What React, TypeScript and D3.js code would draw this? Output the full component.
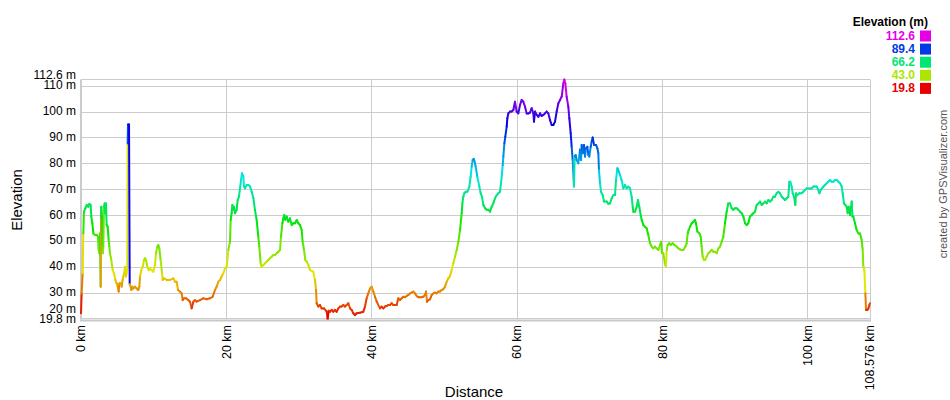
import React from "react";
import * as d3 from "d3";

// ---------- data ----------
const totalKm = 108.576;
const elevMin = 19.8;
const elevMax = 112.6;
const xTickKm = [0, 20, 40, 60, 80, 100, 108.576];
const yTickM = [20, 30, 40, 50, 60, 70, 80, 90, 100, 110];
const legendCount = 5;

// [distance km, elevation m]
const profile: [number, number][] = [
  [0.0, 22.2], [0.09, 29.9], [0.23, 37.7], [0.32, 53.1], [0.41, 61.5], [0.6, 62.8], [0.78, 64.1], [1.01, 63.4], [1.15, 64.5], [1.33, 64.1],
  [1.42, 59.6], [1.56, 57.0], [1.7, 53.1], [1.93, 52.5], [2.16, 52.5], [2.34, 51.8], [2.43, 46.7], [2.52, 45.4], [2.61, 53.1], [2.71, 32.5],
  [2.75, 59.6], [2.8, 63.4], [2.89, 59.6], [2.98, 45.4], [3.07, 48.0], [3.17, 63.4], [3.26, 64.7], [3.35, 60.9], [3.44, 64.7], [3.53, 56.3],
  [3.67, 55.7], [3.81, 50.5], [3.9, 48.0], [3.99, 45.4], [4.17, 42.8], [4.36, 38.9], [4.54, 37.7], [4.72, 35.1], [4.91, 33.8], [5.05, 32.5],
  [5.18, 30.6], [5.28, 33.8], [5.46, 33.8], [5.6, 32.5], [5.73, 35.1], [5.92, 37.7], [6.06, 40.2], [6.19, 36.4], [6.28, 37.7], [6.38, 40.2],
  [6.42, 87.9], [6.47, 95.2], [6.61, 95.2], [6.7, 33.5], [6.83, 32.5], [6.93, 31.2], [7.06, 32.5], [7.2, 31.8], [7.43, 32.5], [7.66, 31.8],
  [7.89, 31.2], [8.03, 32.5], [8.12, 36.4], [8.3, 38.9], [8.49, 40.2], [8.67, 42.8], [8.81, 43.5], [8.94, 42.8], [9.13, 40.2], [9.31, 38.9],
  [9.5, 39.6], [9.72, 38.9], [9.95, 38.3], [10.18, 40.9], [10.32, 45.4], [10.5, 48.0], [10.64, 48.6], [10.78, 47.3], [10.96, 42.8], [11.15, 37.7],
  [11.24, 35.1], [11.42, 35.7], [11.79, 35.1], [12.25, 35.1], [12.71, 35.7], [12.94, 34.4], [13.17, 34.4], [13.35, 31.2], [13.62, 30.6], [13.85, 29.9],
  [13.99, 27.3], [14.17, 28.0], [14.45, 28.0], [14.77, 27.3], [15.0, 26.7], [15.23, 24.1], [15.46, 26.7], [15.69, 27.3], [15.92, 26.7], [16.38, 27.3],
  [16.83, 28.0], [17.29, 27.6], [17.75, 28.0], [18.12, 28.6], [18.44, 31.2], [18.67, 32.5], [18.9, 34.4], [19.13, 35.1], [19.36, 36.4], [19.59, 37.7],
  [19.82, 39.6], [20.05, 40.2], [20.28, 46.7], [20.5, 49.9], [20.6, 58.3], [20.73, 60.9], [20.83, 64.1], [20.96, 62.2], [21.06, 63.4], [21.19, 60.9],
  [21.42, 62.2], [21.56, 66.0], [21.74, 67.3], [21.88, 70.5], [22.02, 73.7], [22.16, 76.3], [22.34, 75.0], [22.43, 71.2], [22.57, 70.5], [22.8, 71.8],
  [23.03, 71.8], [23.26, 71.2], [23.49, 69.2], [23.72, 66.7], [23.94, 62.2], [24.17, 58.3], [24.4, 51.8], [24.54, 48.0], [24.72, 41.5], [24.86, 40.2],
  [25.09, 40.9], [25.32, 41.5], [25.55, 42.2], [25.78, 42.8], [26.01, 43.5], [26.24, 44.1], [26.47, 44.7], [26.7, 44.7], [26.93, 45.4], [27.16, 46.0],
  [27.39, 46.7], [27.52, 51.8], [27.71, 57.0], [27.84, 58.9], [27.98, 60.2], [28.12, 58.3], [28.3, 59.6], [28.53, 57.6], [28.76, 58.9], [28.99, 56.3],
  [29.22, 57.0], [29.45, 57.0], [29.68, 58.3], [29.91, 57.0], [30.14, 56.3], [30.37, 54.4], [30.5, 49.9], [30.69, 46.7], [30.87, 42.8], [31.06, 42.2],
  [31.28, 40.9], [31.51, 38.9], [31.97, 38.3], [32.2, 35.1], [32.34, 31.2], [32.43, 26.1], [32.66, 24.8], [32.89, 25.4], [33.12, 24.1], [33.44, 24.1],
  [33.81, 22.8], [33.94, 19.8], [34.08, 23.2], [34.27, 22.8], [34.5, 23.5], [34.72, 22.8], [34.95, 23.5], [35.18, 22.8], [35.41, 24.1], [35.64, 24.8],
  [35.87, 24.8], [36.1, 25.4], [36.33, 24.8], [36.56, 25.4], [36.79, 26.1], [37.02, 24.1], [37.25, 23.5], [37.48, 22.2], [37.71, 21.5], [37.94, 22.2],
  [38.39, 22.4], [38.85, 22.8], [39.08, 24.8], [39.31, 28.0], [39.54, 29.9], [39.77, 31.8], [40.0, 32.5], [40.23, 30.6], [40.46, 28.6], [40.69, 26.7],
  [41.15, 24.1], [41.38, 24.8], [41.61, 24.1], [41.83, 24.8], [42.06, 25.0], [42.29, 25.4], [42.52, 25.4], [42.75, 26.1], [42.98, 25.4], [43.44, 25.4],
  [43.67, 28.0], [43.9, 27.3], [44.13, 28.0], [44.36, 28.6], [44.59, 28.4], [44.82, 28.9], [45.05, 29.3], [45.28, 29.9], [45.5, 30.2], [45.73, 30.6],
  [45.96, 29.9], [46.19, 28.9], [46.42, 28.4], [46.65, 28.4], [46.88, 28.4], [47.11, 28.6], [47.34, 29.3], [47.48, 30.6], [47.61, 26.7], [47.8, 27.3],
  [48.03, 27.6], [48.26, 29.3], [48.49, 29.9], [48.72, 30.2], [48.94, 29.9], [49.17, 30.6], [49.4, 30.6], [49.63, 31.2], [49.86, 31.5], [50.09, 32.5],
  [50.32, 34.4], [50.55, 35.7], [50.78, 36.6], [51.01, 38.9], [51.24, 41.5], [51.47, 44.1], [51.7, 46.7], [51.93, 49.9], [52.16, 54.4], [52.39, 60.9],
  [52.48, 64.7], [52.61, 67.3], [52.75, 68.6], [52.94, 69.2], [53.17, 69.2], [53.44, 71.2], [53.62, 75.0], [53.76, 78.9], [53.9, 81.5], [54.04, 81.9],
  [54.17, 80.8], [54.31, 78.9], [54.54, 75.0], [54.82, 71.2], [55.0, 68.6], [55.18, 67.3], [55.37, 64.1], [55.6, 62.8], [55.83, 62.2], [56.06, 62.2],
  [56.28, 61.5], [56.51, 63.4], [56.74, 64.7], [56.97, 66.7], [57.2, 67.9], [57.43, 68.6], [57.66, 69.2], [57.8, 72.5], [57.94, 76.3], [58.03, 79.5],
  [58.12, 82.8], [58.26, 87.9], [58.39, 90.5], [58.58, 94.4], [58.67, 97.6], [58.81, 99.5], [59.04, 100.2], [59.27, 100.2], [59.5, 100.8], [59.72, 104.0],
  [59.95, 100.2], [60.18, 99.5], [60.41, 102.7], [60.64, 104.7], [60.87, 104.0], [61.1, 102.1], [61.33, 99.5], [61.56, 99.5], [61.79, 99.8], [62.02, 101.5],
  [62.25, 99.5], [62.34, 96.3], [62.48, 100.2], [62.71, 98.9], [62.94, 98.2], [63.17, 99.5], [63.39, 98.5], [63.62, 98.9], [63.85, 99.5], [64.08, 100.2],
  [64.31, 99.5], [64.54, 96.9], [64.77, 95.0], [65.0, 95.0], [65.23, 96.3], [65.46, 100.2], [65.69, 103.4], [65.92, 104.7], [66.15, 106.0], [66.38, 111.1],
  [66.51, 112.6], [66.65, 111.1], [66.83, 106.0], [67.06, 102.1], [67.2, 97.6], [67.39, 91.8], [67.52, 86.6], [67.66, 81.5], [67.84, 71.2], [67.94, 82.8],
  [68.07, 83.4], [68.21, 81.5], [68.44, 80.2], [68.67, 85.5], [68.81, 81.5], [68.9, 87.3], [69.04, 84.1], [69.22, 87.3], [69.36, 82.8], [69.5, 86.0],
  [69.68, 86.6], [69.82, 83.4], [69.95, 82.8], [70.14, 86.6], [70.28, 88.6], [70.41, 90.2], [70.6, 87.3], [70.87, 87.3], [71.06, 86.0], [71.19, 84.1],
  [71.28, 77.6], [71.42, 72.5], [71.56, 69.2], [71.79, 67.9], [71.97, 65.4], [72.34, 65.4], [72.57, 64.5], [72.8, 64.7], [73.03, 66.7], [73.26, 67.9],
  [73.49, 67.9], [73.62, 73.7], [73.81, 78.3], [73.94, 77.6], [74.17, 75.7], [74.4, 73.7], [74.63, 70.5], [74.86, 71.8], [75.09, 70.5], [75.32, 71.2],
  [75.55, 70.5], [75.78, 67.3], [75.92, 63.4], [76.01, 61.5], [76.24, 61.5], [76.47, 63.4], [76.65, 66.0], [76.83, 63.4], [77.02, 60.2], [77.16, 58.3],
  [77.39, 56.3], [77.61, 55.7], [77.84, 55.1], [78.07, 52.5], [78.3, 49.3], [78.53, 48.0], [78.76, 47.3], [78.99, 48.0], [79.22, 47.3], [79.45, 46.7],
  [79.68, 48.6], [79.82, 49.9], [79.95, 45.4], [80.14, 45.4], [80.37, 40.9], [80.5, 40.5], [80.6, 46.7], [80.73, 48.6], [80.96, 49.3], [81.15, 48.6],
  [81.42, 49.3], [81.65, 48.6], [81.97, 48.0], [82.2, 47.3], [82.43, 46.9], [82.66, 46.7], [82.89, 46.7], [83.17, 48.0], [83.35, 49.3], [83.49, 53.1],
  [83.62, 54.4], [83.81, 55.7], [84.04, 57.0], [84.27, 57.6], [84.5, 58.3], [84.63, 57.0], [84.82, 53.8], [85.09, 53.1], [85.28, 51.8], [85.41, 48.0],
  [85.55, 44.1], [85.73, 42.8], [85.87, 42.8], [86.1, 44.1], [86.33, 45.4], [86.56, 46.0], [86.79, 46.7], [87.02, 46.0], [87.25, 46.0], [87.48, 45.4],
  [87.71, 47.3], [87.94, 48.0], [88.17, 49.9], [88.39, 51.8], [88.62, 57.0], [88.85, 61.5], [89.08, 64.7], [89.31, 64.7], [89.54, 62.8], [89.77, 62.2],
  [90.0, 62.8], [90.23, 62.8], [90.46, 62.2], [90.69, 61.5], [90.92, 60.9], [91.15, 59.6], [91.38, 57.0], [91.61, 56.3], [91.83, 57.0], [92.06, 59.6],
  [92.29, 60.2], [92.52, 60.9], [92.75, 61.5], [92.98, 64.1], [93.21, 64.7], [93.44, 65.4], [93.67, 64.1], [93.9, 64.7], [94.13, 65.4], [94.36, 64.7],
  [94.59, 66.0], [94.82, 65.4], [95.05, 66.0], [95.28, 67.3], [95.5, 67.3], [95.73, 68.6], [95.96, 69.2], [96.19, 68.6], [96.42, 67.3], [96.65, 66.7],
  [96.88, 66.0], [97.11, 66.7], [97.34, 67.3], [97.48, 73.1], [97.61, 73.1], [97.8, 71.2], [97.94, 68.6], [98.12, 67.3], [98.3, 64.1], [98.39, 68.6],
  [98.58, 67.9], [98.85, 68.6], [99.17, 68.6], [99.4, 69.2], [99.63, 69.9], [99.86, 70.5], [100.09, 70.5], [100.32, 70.5], [100.55, 70.5], [100.78, 71.2],
  [101.01, 71.2], [101.24, 71.2], [101.47, 69.9], [101.61, 68.6], [101.79, 69.9], [101.97, 70.5], [102.16, 71.2], [102.39, 71.8], [102.61, 72.5], [102.84, 73.1],
  [103.07, 73.7], [103.3, 73.1], [103.53, 73.1], [103.76, 73.7], [103.99, 73.7], [104.22, 73.1], [104.45, 72.5], [104.68, 71.2], [104.82, 68.6], [105.0, 64.7],
  [105.18, 64.1], [105.37, 63.4], [105.5, 60.9], [105.64, 63.4], [105.83, 60.2], [106.06, 65.4], [106.15, 59.6], [106.28, 59.6], [106.51, 57.0], [106.74, 54.4],
  [106.97, 53.1], [107.2, 53.1], [107.43, 50.5], [107.57, 46.7], [107.66, 40.2], [107.8, 38.9], [107.94, 29.9], [108.03, 23.5], [108.21, 23.5], [108.35, 24.1],
  [108.49, 25.4], [108.576, 26.1],
];

// ---------- layout ----------
const W = 950;
const H = 400;
const plotLeft = 81;
const plotRight = 870;
const plotTop = 79.5;
const plotBottom = 319.5;
const FONT = "'Liberation Sans', Arial, Helvetica, sans-serif";
const GRID = "#cccccc";

const x = d3.scaleLinear().domain([0, totalKm]).range([plotLeft, plotRight]);
const y = d3.scaleLinear().domain([elevMin, elevMax]).range([plotBottom, plotTop]);
const hue = d3.scaleLinear().domain([elevMin, elevMax]).range([0, 300]);
const colorOf = (e: number) => d3.hsl(hue(e), 1, 0.45).formatHex();
const snap = (v: number) => Math.round(v - 0.5) + 0.5;

const fmtKm = (v: number) => (Number.isInteger(v) ? `${v}` : d3.format(".3f")(v)) + " km";

export default function App() {
  const segments = d3.pairs(profile);
  const legendValues = d3
    .range(legendCount)
    .map((i) => elevMin + (i * (elevMax - elevMin)) / (legendCount - 1))
    .reverse();

  // y labels with overlap avoidance near extremes
  const topBase = y(elevMax) - 0.5;
  const botBase = y(elevMin) + 3;
  const yLabels = yTickM.map((v) => {
    let b = y(v) + 3;
    if (b - topBase < 8.3) b = topBase + 8.3;
    if (botBase - b < 10) b = botBase - 10;
    return { v, b };
  });

  return (
    <svg
      width={W}
      height={H}
      style={{ position: "absolute", left: 0, top: 0, background: "#fff" }}
      fontFamily={FONT}
    >
      <rect x={0} y={0} width={W} height={H} fill="#fff" />
      {/* horizontal grid */}
      {yTickM.map((v) => (
        <line key={"h" + v} x1={plotLeft} x2={plotRight} y1={snap(y(v))} y2={snap(y(v))} stroke={GRID} strokeWidth={1} />
      ))}
      <line x1={plotLeft} x2={plotRight} y1={snap(y(elevMax))} y2={snap(y(elevMax))} stroke={GRID} strokeWidth={1} />
      {/* vertical grid */}
      {xTickKm.map((v) => (
        <line key={"v" + v} x1={snap(x(v))} x2={snap(x(v))} y1={plotTop} y2={plotBottom} stroke={GRID} strokeWidth={1} />
      ))}
      <line x1={plotLeft - 0.5} x2={plotLeft - 0.5} y1={plotTop} y2={plotBottom} stroke={GRID} strokeWidth={1} />

      {/* profile */}
      <g>
        {segments.map(([a, b], i) => (
          <line
            key={i}
            x1={x(a[0])}
            y1={y(a[1])}
            x2={x(b[0])}
            y2={y(b[1])}
            stroke={colorOf(a[1])}
            strokeWidth={2}
            strokeLinecap="round"
          />
        ))}
      </g>

      {/* bottom axis */}
      <line x1={plotLeft - 1} x2={plotRight + 1} y1={plotBottom + 1} y2={plotBottom + 1} stroke="#c8c8c8" strokeWidth={2} />

      {/* y labels */}
      <g fontSize={12} fill="#000" textAnchor="end">
        <text x={76} y={topBase}>{`${elevMax} m`}</text>
        {yLabels.map((d) => (
          <text key={d.v} x={76} y={d.b}>{`${d.v} m`}</text>
        ))}
        <text x={76} y={botBase}>{`${elevMin} m`}</text>
      </g>

      {/* x labels */}
      <g fontSize={12.5} fill="#000" textAnchor="end">
        {xTickKm.map((v) => (
          <text key={v} transform={`translate(${x(v)},325) rotate(-90)`} dy="0.35em">
            {fmtKm(v)}
          </text>
        ))}
      </g>

      {/* axis titles */}
      <text transform="translate(21.5,200) rotate(-90)" textAnchor="middle" fontSize={15} fill="#000">
        Elevation
      </text>
      <text x={474} y={397} textAnchor="middle" fontSize={15} fill="#000">
        Distance
      </text>

      {/* legend */}
      <text x={928} y={26} textAnchor="end" fontSize={12} fontWeight="bold" fill="#000">
        Elevation (m)
      </text>
      {legendValues.map((v, i) => {
        const base = 40 + i * 13.1;
        return (
          <g key={i}>
            <text x={915} y={base} textAnchor="end" fontSize={12} fontWeight="bold" fill={colorOf(v)}>
              {v.toFixed(1)}
            </text>
            <rect x={920} y={base - 9.5} width={11} height={11} fill={colorOf(v)} />
          </g>
        );
      })}

      {/* credit */}
      <text transform="translate(947,184) rotate(-90)" textAnchor="middle" fontSize={11} fill="#555">
        created by GPSVisualizer.com
      </text>
    </svg>
  );
}
